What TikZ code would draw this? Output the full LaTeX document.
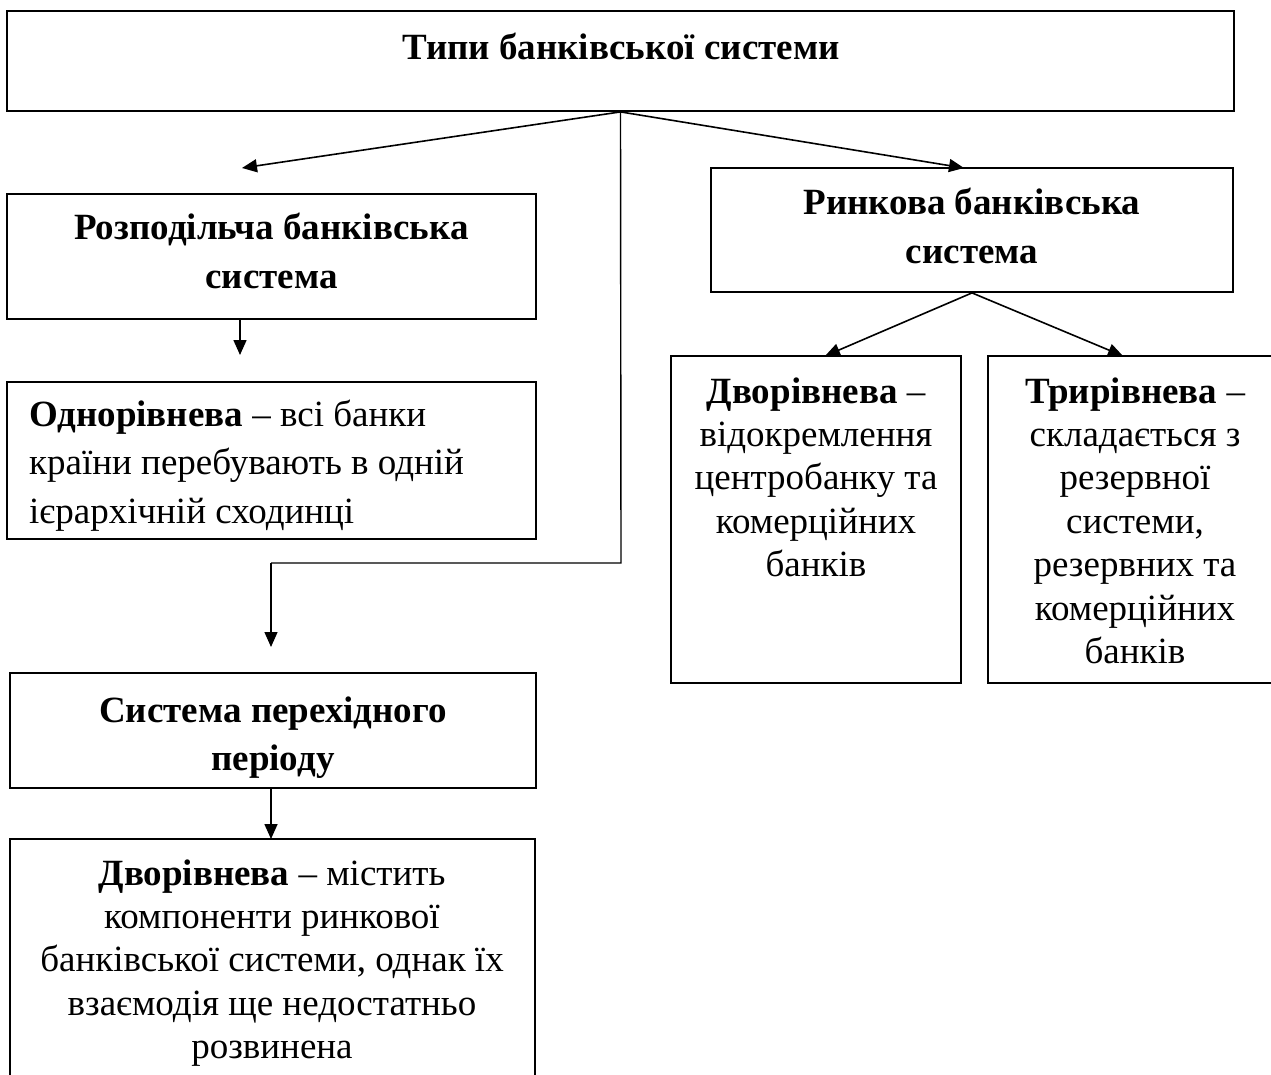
\documentclass[tikz,border=0pt]{standalone}
\usepackage{fontspec}
\setmainfont{Liberation Serif}
\usetikzlibrary{arrows.meta,fit}
\newcommand\mytab[2][c]{\begin{tabular}[t]{@{}#1@{}}#2\end{tabular}}
\begin{document}
\begin{tikzpicture}[x=1pt,y=-1pt,
  box/.style={draw, line width=1.8pt, inner sep=0pt},
  txt/.style={inner sep=0pt, anchor=base, font=\fontsize{37}{43.4}\selectfont},
  hdr/.style={inner sep=0pt, anchor=base, font=\fontsize{37}{48.5}\selectfont\bfseries},
  lft/.style={inner sep=0pt, anchor=base west, font=\fontsize{37}{48.5}\selectfont},
  arr/.style={line width=1.6pt, -{Triangle[length=15pt,width=13pt]}},
  ln/.style={line width=1.4pt}]
\useasboundingbox (0,0) rectangle (1271,1075);
\clip (0,0) rectangle (1271,1075);
% boxes
\node[box, fit={(7,11) (1234,111)}] (top) {};
\node[box, fit={(7,194) (536,319)}] (roz) {};
\node[box, fit={(7,382) (536,539)}] (odn) {};
\node[box, fit={(10,673) (536,788)}] (sys) {};
\node[box, fit={(10,839) (535,1085)}] (dvl) {};
\node[box, fit={(711,168) (1233,292)}] (ryn) {};
\node[box, fit={(671,356) (961,683)}] (dvr) {};
\node[box, fit={(988,356) (1282,683)}] (trr) {};
% texts
\node[hdr] (topT) at (621,60) {Типи банківської системи};
\node[hdr] (rozT) at (271.5,240) {\mytab{Розподільча банківська\\система}};
\node[lft] (odnT) at (29,426) {\mytab[l]{\textbf{Однорівнева} – всі банки\\країни перебувають в одній\\ієрархічній сходинці}};
\node[hdr] (sysT) at (273,722) {\mytab{Система перехідного\\періоду}};
\node[txt] (dvlT) at (272,885) {\mytab{\textbf{Дворівнева} – містить\\компоненти ринкової\\банківської системи, однак їх\\взаємодія ще недостатньо\\розвинена}};
\node[hdr] (rynT) at (972,215) {\mytab{Ринкова банківська\\система}};
\node[txt] (dvrT) at (816,403) {\mytab{\textbf{Дворівнева} –\\відокремлення\\центробанку та\\комерційних\\банків}};
\node[txt] (trrT) at (1135,403) {\mytab{\textbf{Трирівнева} –\\складається з\\резервної\\системи,\\резервних та\\комерційних\\банків}};
% connector ends
\coordinate (rozIn) at (242,168);
\coordinate (rynIn) at (964,168);
\coordinate (odnIn) at (240,355);
\coordinate (sysIn) at (271,647);
\coordinate (dvlIn) at (271,839);
\coordinate (elbA) at (621,563);
\coordinate (elbB) at (271,563);
\coordinate (dvrIn) at (825,356);
\coordinate (trrIn) at (1123,356);
% connectors
\draw[arr] (top.south) -- (rozIn);
\draw[arr] (top.south) -- (rynIn);
\draw[arr] (roz.south -| odnIn) -- (odnIn);
\draw[ln] (top.south) -- (elbA) -- (elbB);
\draw[arr, line width=1.4pt] (elbB) -- (sysIn);
\draw[arr] (sys.south -| dvlIn) -- (dvlIn);
\draw[arr] (ryn.south) -- (dvrIn);
\draw[arr] (ryn.south) -- (trrIn);
\end{tikzpicture}
\end{document}
